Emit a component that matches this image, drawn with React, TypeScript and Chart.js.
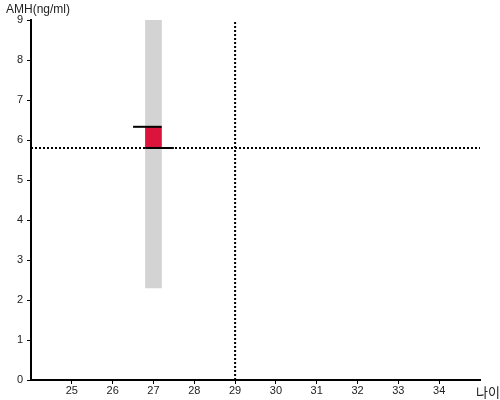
import React, { useEffect, useRef } from "react";
import { Chart, registerables } from "chart.js";

Chart.register(...registerables);

const xTicks = [25, 26, 27, 28, 29, 30, 31, 32, 33, 34];
const xMin = 24;
const xMax = 35;
const yMin = 0;
const yMax = 9;
const userAge = 27;
const rangeLow = 2.3;
const rangeHigh = 9;
const userValue = 6.33;
const refValue = 5.8;
const refAge = 29;
const userLineX = [26.5, 27.2];
const refLineX = [26.8, 27.5];
const yTitle = "AMH(ng/ml)";
const xTitle = "나이";

const titlePlugin = {
  id: "axisTitles",
  afterDraw(chart: any) {
    const { ctx, chartArea } = chart;
    ctx.save();
    ctx.fillStyle = "#222";
    ctx.textBaseline = "middle";
    ctx.textAlign = "left";
    ctx.font = "12px 'Liberation Sans', Arial, sans-serif";
    ctx.fillText(yTitle, chartArea.left - 25, chartArea.top - 10);
    ctx.font = "13px 'Noto Sans CJK KR', sans-serif";
    ctx.fillText(xTitle, chartArea.right - 4, chartArea.bottom + 12);
    ctx.restore();
  },
};

export default function App() {
  const ref = useRef<HTMLCanvasElement>(null);
  useEffect(() => {
    document.body.style.margin = "0";
    const chart = new Chart(ref.current!, {
      type: "bar",
      data: {
        datasets: [
          {
            type: "bar",
            data: [{ x: userAge, y: [rangeLow, rangeHigh] }] as any,
            backgroundColor: "#d3d3d3",
            barThickness: 16,
            grouped: false,
            order: 5,
          } as any,
          {
            type: "bar",
            data: [{ x: userAge, y: [refValue, userValue] }] as any,
            backgroundColor: "#dc143c",
            barThickness: 16,
            grouped: false,
            order: 4,
          } as any,
          {
            type: "line",
            data: [
              { x: xMin, y: refValue },
              { x: xMax, y: refValue },
            ],
            borderColor: "#000",
            borderWidth: 2,
            borderDash: [2, 2],
            pointRadius: 0,
            order: 3,
          },
          {
            type: "line",
            data: [
              { x: refAge, y: yMin },
              { x: refAge, y: yMax },
            ],
            borderColor: "#000",
            borderWidth: 2,
            borderDash: [2, 2],
            pointRadius: 0,
            order: 3,
          },
          {
            type: "line",
            data: [
              { x: userLineX[0], y: userValue },
              { x: userLineX[1], y: userValue },
            ],
            borderColor: "#000",
            borderWidth: 2,
            pointRadius: 0,
            order: 1,
          },
          {
            type: "line",
            data: [
              { x: refLineX[0], y: refValue },
              { x: refLineX[1], y: refValue },
            ],
            borderColor: "#000",
            borderWidth: 2,
            pointRadius: 0,
            order: 1,
          },
        ],
      },
      options: {
        animation: false,
        responsive: false,
        layout: { padding: { top: 20, right: 20, left: 0, bottom: 0 } },
        plugins: { legend: { display: false }, tooltip: { enabled: false } },
        scales: {
          x: {
            type: "linear",
            offset: false,
            min: xMin,
            max: xMax,
            afterBuildTicks: (s: any) => {
              s.ticks = xTicks.map((v) => ({ value: v }));
            },
            afterFit: (s: any) => {
              s.height = 20;
            },
            grid: {
              offset: false,
              drawOnChartArea: false,
              drawTicks: true,
              tickLength: 4,
              color: "#000",
            },
            border: { color: "#000", width: 2 },
            ticks: {
              color: "#222",
              font: { family: "'Liberation Sans', Arial, sans-serif", size: 11 },
              padding: 0,
              maxRotation: 0,
            },
          },
          y: {
            min: yMin,
            max: yMax,
            afterFit: (s: any) => {
              s.width = 31;
            },
            grid: {
              drawOnChartArea: false,
              drawTicks: true,
              tickLength: 4,
              color: "#000",
            },
            border: { color: "#000", width: 2 },
            ticks: {
              stepSize: 1,
              color: "#222",
              font: { family: "'Liberation Sans', Arial, sans-serif", size: 11 },
              padding: 4,
            },
          },
        },
      } as any,
      plugins: [titlePlugin],
    });
    return () => chart.destroy();
  }, []);
  return <canvas ref={ref} width={500} height={400} />;
}
